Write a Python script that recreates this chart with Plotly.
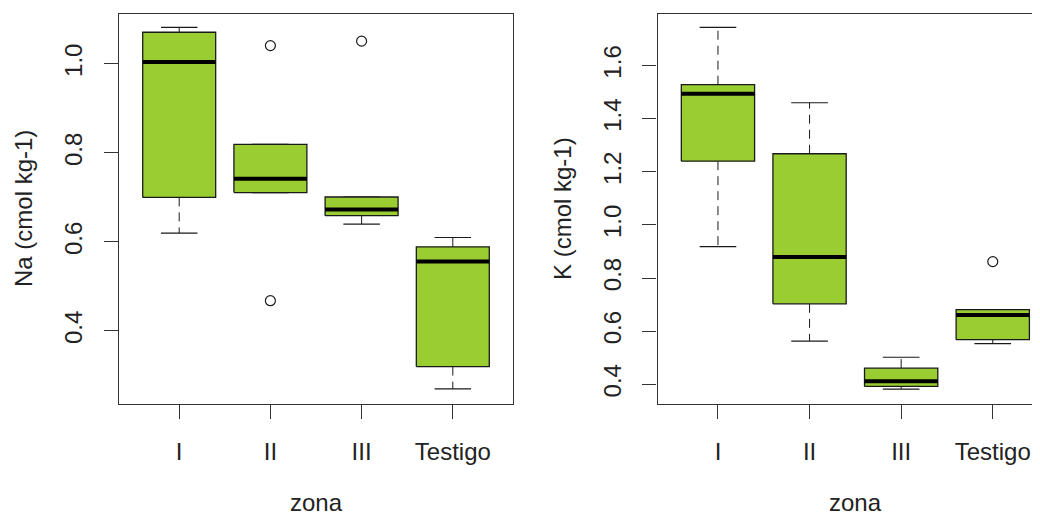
import plotly.graph_objects as go

# ---- data ----
zonas = ["I", "II", "III", "Testigo"]

na_lower = [0.620, 0.711, 0.640, 0.270]
na_q1 = [0.700, 0.711, 0.659, 0.320]
na_median = [1.004, 0.742, 0.673, 0.556]
na_q3 = [1.071, 0.819, 0.701, 0.589]
na_upper = [1.082, 0.819, 0.701, 0.610]
na_out_zona = ["II", "II", "III"]
na_out_val = [1.041, 0.468, 1.051]

k_lower = [0.918, 0.563, 0.382, 0.553]
k_q1 = [1.240, 0.703, 0.392, 0.568]
k_median = [1.494, 0.879, 0.412, 0.661]
k_q3 = [1.528, 1.268, 0.461, 0.681]
k_upper = [1.744, 1.460, 0.502, 0.681]
k_out_zona = ["Testigo"]
k_out_val = [0.862]

na_ticks = [0.4, 0.6, 0.8, 1.0]
k_ticks = [0.4, 0.6, 0.8, 1.0, 1.2, 1.4, 1.6]

# ---- style ----
FILL = "#9ACD32"
LINE = "#1a1a1a"
AXC = "#333333"
FONT = "Liberation Sans, Arial, sans-serif"
HALF = 0.4      # half box width
CAP = 0.2       # half staple width

W, H = 1040, 517
OFF = 8  # page body margin


def px(x):
    return (x - OFF) / W


def py(y):
    return 1 - (y - OFF) / H


fig = go.Figure()


def add_boxes(xa, ya, lower, q1, med, q3, upper, out_z, out_v):
    for i, z in enumerate(zonas):
        p = i + 1
        fig.add_trace(go.Scatter(
            x=[p, p, None, p, p], y=[q3[i], upper[i], None, q1[i], lower[i]],
            mode="lines", line=dict(color=LINE, width=1, dash="9px,6px"),
            xaxis=xa, yaxis=ya, hoverinfo="skip", showlegend=False))
        fig.add_trace(go.Scatter(
            x=[p - CAP, p + CAP, None, p - CAP, p + CAP],
            y=[upper[i], upper[i], None, lower[i], lower[i]],
            mode="lines", line=dict(color=LINE, width=1.2),
            xaxis=xa, yaxis=ya, hoverinfo="skip", showlegend=False))
        fig.add_trace(go.Scatter(
            x=[p - HALF, p + HALF, p + HALF, p - HALF, p - HALF],
            y=[q1[i], q1[i], q3[i], q3[i], q1[i]],
            mode="lines", fill="toself", fillcolor=FILL,
            line=dict(color=LINE, width=1.3),
            xaxis=xa, yaxis=ya, hoverinfo="skip", showlegend=False))
        fig.add_trace(go.Scatter(
            x=[p - HALF, p + HALF], y=[med[i], med[i]],
            mode="lines", line=dict(color="black", width=4),
            xaxis=xa, yaxis=ya, hoverinfo="skip", showlegend=False))
    fig.add_trace(go.Scatter(
        x=[zonas.index(z) + 1 for z in out_z], y=out_v, mode="markers",
        marker=dict(symbol="circle-open", size=10, color=LINE, line=dict(width=1.2)),
        xaxis=xa, yaxis=ya, hoverinfo="skip", showlegend=False))


add_boxes("x", "y", na_lower, na_q1, na_median, na_q3, na_upper, na_out_zona, na_out_val)
add_boxes("x2", "y2", k_lower, k_q1, k_median, k_q3, k_upper, k_out_zona, k_out_val)

ydom = [py(404), py(14)]
TF = dict(family=FONT, size=24, color="#222")
common_x = dict(tickvals=[1, 2, 3, 4], ticktext=zonas, ticks="outside", ticklen=14,
                tickcolor=AXC, showline=True, linecolor=AXC, linewidth=1.2,
                showgrid=False, zeroline=False, ticklabelstandoff=12, tickfont=TF)
common_y = dict(ticks="outside", ticklen=14, tickcolor=AXC, showline=True,
                linecolor=AXC, linewidth=1.2, showgrid=False, zeroline=False,
                tickangle=-90, ticklabelstandoff=12, tickfont=TF)

fig.update_layout(
    width=W, height=H, margin=dict(l=0, r=0, t=0, b=0),
    paper_bgcolor="white", plot_bgcolor="white", showlegend=False,
    xaxis=dict(domain=[px(119), px(513)], range=[0.34, 4.66], mirror=True, anchor="y", **common_x),
    yaxis=dict(domain=ydom, range=[0.236, 1.112], mirror=True, anchor="x",
               tickvals=na_ticks, ticktext=[f"{v:.1f}" for v in na_ticks], **common_y),
    xaxis2=dict(domain=[px(657.5), 1.0], range=[0.34, 0.34 + (W + OFF - 657.5) / 91.6],
                mirror=True, anchor="y2", **common_x),
    yaxis2=dict(domain=ydom, range=[0.326, 1.794], mirror=False, anchor="x2",
                tickvals=k_ticks, ticktext=[f"{v:.1f}" for v in k_ticks], **common_y),
    annotations=[
        dict(text="Na (cmol kg-1)", x=px(23), y=py(209), xref="paper", yref="paper",
             textangle=-90, showarrow=False, xanchor="center", yanchor="middle", font=TF),
        dict(text="K (cmol kg-1)", x=px(562), y=py(209), xref="paper", yref="paper",
             textangle=-90, showarrow=False, xanchor="center", yanchor="middle", font=TF),
        dict(text="zona", x=px(316), y=py(502), xref="paper", yref="paper",
             showarrow=False, xanchor="center", yanchor="middle", font=TF),
        dict(text="zona", x=px(855), y=py(502), xref="paper", yref="paper",
             showarrow=False, xanchor="center", yanchor="middle", font=TF),
    ],
)

fig.write_html("out.html")
